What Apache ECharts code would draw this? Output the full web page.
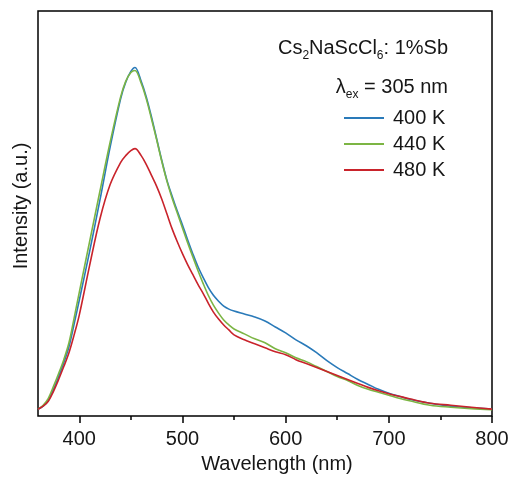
<!DOCTYPE html>
<html>
<head>
<meta charset="utf-8">
<script src="https://cdn.jsdelivr.net/npm/echarts@6/dist/echarts.min.js"></script>
<style>
  html, body { margin: 0; padding: 0; background: #fff; }
  #chart { width: 516px; height: 479px; }
</style>
</head>
<body>
<div id="chart"></div>
<script>
// Emission wavelengths (nm) shared by all three spectra
const wavelength = [360,365,370,375,380,385,390,395,400,410,420,430,440,445,450,454,460,465,470,475,480,485,490,495,500,505,510,515,520,525,530,535,540,545,550,560,570,580,590,600,610,620,630,640,650,660,670,680,690,700,710,720,740,760,780,800];

// Emission intensity (a.u.) at 400 K, 440 K and 480 K
const int400K = [7,10,16,27,40,54,70,93,117,166,218,272,320,337,348,352,338,322,302,280,258,238,222,207,193,178,164,151,140,130,122,116,111,108,106,103,100,96,90,84,77,71,64,56,49,43,37,32,27,23,20,17,13,10,8.5,7];
const int440K = [7,11,18,30,43,57,74,99,125,176,227,277,322,338,347,349,336,320,300,279,257,237,220,205,190,175,161,147,134,122,112,104,97,92,88,83,78,74,68,64,59,55,50,45,40,36,31,27,24,21,18,15.5,11,9,7.5,6.5];
const int480K = [7,10,15,25,37,50,64,82,102,152,199,234,256,263,268,270,263,254,243,232,219,204,189,176,164,153,143,133,124,114,105,98,92,87,82,77,73,69,65,62,57,53,49,45,41,37,33,29,25.5,22.5,20,17.5,13,11,9,7];

const seriesNames = ['400 K', '440 K', '480 K'];
const seriesValues = [int400K, int440K, int480K];
const seriesColors = ['#2a7ab9', '#7cb544', '#c9232b'];

const majorTicks = [400, 500, 600, 700, 800];
const minorTicks = [450, 550, 650, 750];

const FONT = '"Liberation Sans", Arial, sans-serif';
const TEXT_COLOR = '#161616';

const chart = echarts.init(document.getElementById('chart'), null, { renderer: 'canvas' });

const series = seriesNames.map((name, i) => ({
  name: name,
  type: 'line',
  xAxisIndex: 0,
  yAxisIndex: 0,
  data: wavelength.map((w, j) => [w, seriesValues[i][j]]),
  showSymbol: false,
  smooth: 0.35,
  lineStyle: { color: seriesColors[i], width: 1.6 },
  itemStyle: { color: seriesColors[i] },
  animation: false,
  z: 2 + i
}));

chart.setOption({
  animation: false,
  backgroundColor: '#fff',
  grid: {
    left: 38, top: 11, right: 24, bottom: 59,
    show: true, borderColor: '#000', borderWidth: 1.5, backgroundColor: 'transparent'
  },
  xAxis: [
    {
      type: 'value', min: 360, max: 800, position: 'bottom',
      axisLine: { show: false },
      splitLine: { show: false },
      axisTick: { show: true, inside: false, length: 7, customValues: majorTicks,
                  lineStyle: { color: '#000', width: 1.5 } },
      axisLabel: { show: true, customValues: majorTicks, margin: 13,
                   fontFamily: FONT, fontSize: 20, color: TEXT_COLOR },
      name: 'Wavelength (nm)',
      nameLocation: 'middle',
      nameGap: 31,
      nameTextStyle: { fontFamily: FONT, fontSize: 20, color: TEXT_COLOR, padding: [0, 0, 0, 24] }
    },
    {
      type: 'value', min: 360, max: 800, position: 'bottom',
      axisLine: { show: false },
      splitLine: { show: false },
      axisTick: { show: true, inside: false, length: 4, customValues: minorTicks,
                  lineStyle: { color: '#000', width: 1.5 } },
      axisLabel: { show: false }
    }
  ],
  yAxis: {
    type: 'value', min: 0, max: 409,
    axisLine: { show: false },
    axisTick: { show: false },
    axisLabel: { show: false },
    splitLine: { show: false }
  },
  legend: {
    data: seriesNames,
    orient: 'vertical',
    left: 339,
    top: 103,
    itemWidth: 40,
    itemHeight: 2,
    itemGap: 6,
    icon: 'rect',
    textStyle: { fontFamily: FONT, fontSize: 20, color: TEXT_COLOR, lineHeight: 20, padding: [0, 0, 0, 4] }
  },
  graphic: [
    {
      type: 'text',
      x: 448, y: 48,
      style: {
        text: '{n|Cs}{s|2}{n|NaScCl}{s|6}{n|: 1%Sb}',
        align: 'right', verticalAlign: 'middle',
        fill: TEXT_COLOR,
        rich: {
          n: { fontFamily: FONT, fontSize: 20, lineHeight: 28, fill: TEXT_COLOR },
          s: { fontFamily: FONT, fontSize: 12, lineHeight: 12, verticalAlign: 'bottom', fill: TEXT_COLOR }
        }
      }
    },
    {
      type: 'text',
      x: 448, y: 87,
      style: {
        text: '{n|λ}{s|ex}{n| = 305 nm}',
        align: 'right', verticalAlign: 'middle',
        fill: TEXT_COLOR,
        rich: {
          n: { fontFamily: FONT, fontSize: 20, lineHeight: 28, fill: TEXT_COLOR },
          s: { fontFamily: FONT, fontSize: 12, lineHeight: 12, verticalAlign: 'bottom', fill: TEXT_COLOR }
        }
      }
    },
    {
      type: 'text',
      x: 21, y: 206,
      rotation: Math.PI / 2,
      style: {
        text: 'Intensity (a.u.)',
        align: 'center', verticalAlign: 'middle',
        fontFamily: FONT, fontSize: 20, fill: TEXT_COLOR
      }
    }
  ],
  series: series
});
</script>
</body>
</html>
